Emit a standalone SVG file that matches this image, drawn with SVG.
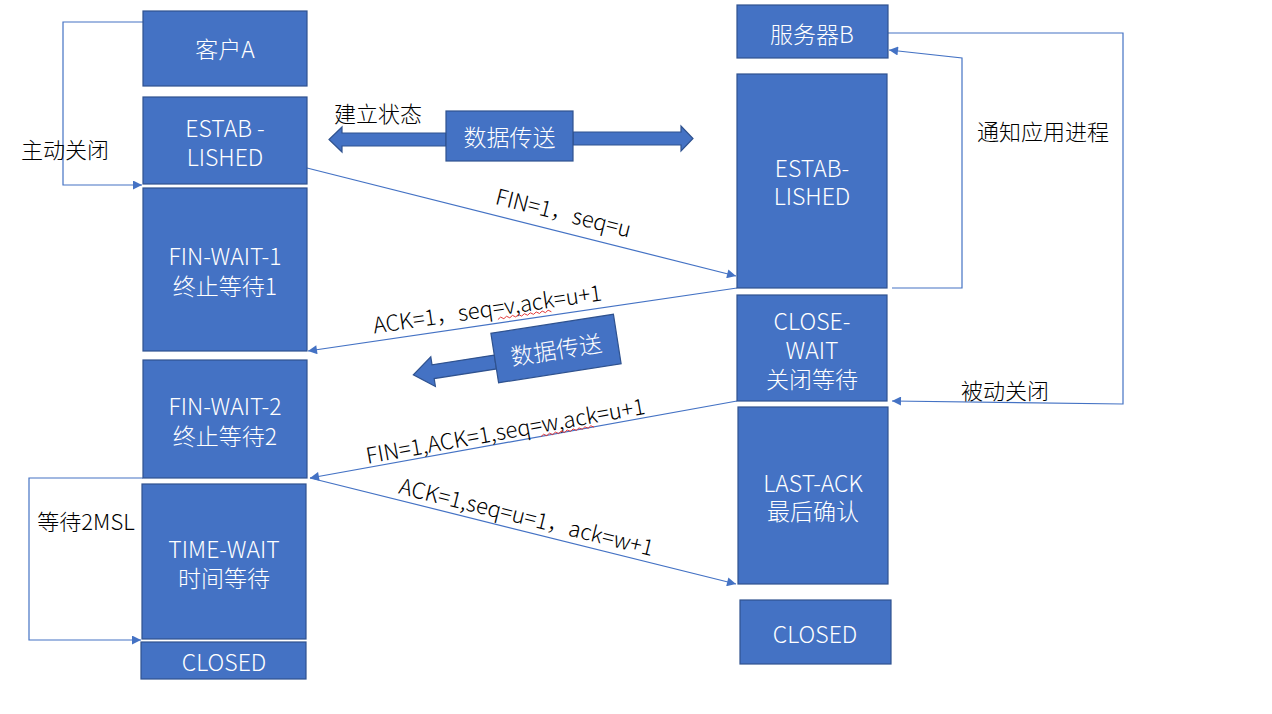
<svg xmlns="http://www.w3.org/2000/svg" width="1272" height="714" viewBox="0 0 1272 714">
<style>
.box{fill:#4472C4;stroke:#2F528F;stroke-width:1.2}
.bt{fill:#FFFFFF;font-family:"Noto Sans CJK SC","Noto Sans",sans-serif;font-weight:300;font-size:23px;text-anchor:middle;dominant-baseline:central}
.lt{fill:#000000;font-family:"Noto Sans CJK SC","Noto Sans",sans-serif;font-weight:300;font-size:22px;text-anchor:middle;dominant-baseline:central}
.ln{fill:none;stroke:#4472C4;stroke-width:1.2}
.sq{fill:none;stroke:#E03030;stroke-width:0.9}
</style>
<defs>
<marker id="ah" viewBox="0 0 10 10" refX="10" refY="5" markerWidth="10" markerHeight="9" markerUnits="userSpaceOnUse" orient="auto">
<path d="M0,0 L10,5 L0,10 z" fill="#4472C4"/>
</marker>
</defs>
<rect width="1272" height="714" fill="#FFFFFF"/>

<g id="connectors">
<polyline class="ln" points="143,22 63,22 63,185 142,185" marker-end="url(#ah)"/>
<line class="ln" x1="307" y1="168" x2="736" y2="276" marker-end="url(#ah)"/>
<line class="ln" x1="737" y1="288" x2="308" y2="351" marker-end="url(#ah)"/>
<line class="ln" x1="737" y1="401" x2="310" y2="478" marker-end="url(#ah)"/>
<line class="ln" x1="310" y1="478" x2="736" y2="584" marker-end="url(#ah)"/>
<polyline class="ln" points="143,478 29,478 29,640 141,640" marker-end="url(#ah)"/>
<polyline class="ln" points="892,288 962,288 962,58 889,50" marker-end="url(#ah)"/>
<polyline class="ln" points="888,33 1123,33 1123,404 892,401" marker-end="url(#ah)"/>
</g>

<g id="labels">
<text class="lt" x="65" y="148">主动关闭</text>
<text class="lt" x="378" y="112">建立状态</text>
<text class="lt" x="1043" y="130">通知应用进程</text>
<text class="lt" x="1005" y="389">被动关闭</text>
<text class="lt" x="86" y="520">等待2MSL</text>
<text class="lt" transform="translate(564,211) rotate(14.1)">FIN=1，seq=u</text>
<g transform="translate(487,307) rotate(-8.3)">
<text class="lt" x="0" y="0">ACK=1，seq=v,ack=u+1</text>
<path class="sq" d="M9,14 l3,-2 l3,2 l3,-2 l3,2 l3,-2 l3,2 l3,-2 l3,2 l3,-2 l3,2 l3,-2 l3,2 l3,-2 l3,2 l3,-2 l3,2 l3,-2 l3,2"/>
</g>
<g transform="translate(505,429) rotate(-10.2)">
<text class="lt" x="0" y="0">FIN=1,ACK=1,seq=w,ack=u+1</text>
<path class="sq" d="M34,14 l3,-2 l3,2 l3,-2 l3,2 l3,-2 l3,2 l3,-2 l3,2 l3,-2 l3,2 l3,-2 l3,2 l3,-2 l3,2 l3,-2 l3,2 l3,-2 l3,2"/>
</g>
<text class="lt" transform="translate(527,515) rotate(13.9)">ACK=1,seq=u=1，ack=w+1</text>
</g>

<g id="data-transfer-top">
<polygon class="box" points="446,133 342,133 342,127 329,139.5 342,152 342,146 446,146"/>
<polygon class="box" points="573,132 681,132 681,126 693,138.5 681,151 681,145 573,145"/>
<rect class="box" x="446" y="111" width="127" height="50"/>
<text class="bt" x="509.5" y="136">数据传送</text>
</g>

<g id="data-transfer-mid" transform="translate(556,348.5) rotate(-8.85)">
<polygon class="box" points="-62,-3 -125,-3 -125,-11 -145,4 -125,19 -125,11 -62,11"/>
<rect class="box" x="-62" y="-25" width="124" height="50"/>
<text class="bt" x="0" y="0">数据传送</text>
</g>

<g id="client-a"><rect class="box" x="143" y="11" width="164" height="75"/><text class="bt" x="225" y="48">客户A</text></g>
<g id="a-established"><rect class="box" x="143" y="97" width="164" height="87"/><text class="bt" x="225" y="127">ESTAB -</text><text class="bt" x="225" y="156">LISHED</text></g>
<g id="a-fin-wait-1"><rect class="box" x="143" y="188" width="164" height="163"/><text class="bt" x="225" y="255">FIN-WAIT-1</text><text class="bt" x="225" y="285">终止等待1</text></g>
<g id="a-fin-wait-2"><rect class="box" x="143" y="360" width="164" height="118"/><text class="bt" x="225" y="405">FIN-WAIT-2</text><text class="bt" x="225" y="435">终止等待2</text></g>
<g id="a-time-wait"><rect class="box" x="142" y="484" width="164" height="155"/><text class="bt" x="224" y="548">TIME-WAIT</text><text class="bt" x="224" y="577">时间等待</text></g>
<g id="a-closed"><rect class="box" x="141" y="642" width="165" height="37"/><text class="bt" x="224" y="661">CLOSED</text></g>

<g id="server-b"><rect class="box" x="737" y="5" width="151" height="53"/><text class="bt" x="812" y="33">服务器B</text></g>
<g id="b-established"><rect class="box" x="737" y="74" width="150" height="214"/><text class="bt" x="812" y="167">ESTAB-</text><text class="bt" x="812" y="195">LISHED</text></g>
<g id="b-close-wait"><rect class="box" x="737" y="295" width="150" height="106"/><text class="bt" x="812" y="320">CLOSE-</text><text class="bt" x="812" y="349">WAIT</text><text class="bt" x="812" y="378">关闭等待</text></g>
<g id="b-last-ack"><rect class="box" x="738" y="407" width="150" height="177"/><text class="bt" x="813" y="482">LAST-ACK</text><text class="bt" x="813" y="510">最后确认</text></g>
<g id="b-closed"><rect class="box" x="740" y="600" width="151" height="64"/><text class="bt" x="815" y="633">CLOSED</text></g>
</svg>
